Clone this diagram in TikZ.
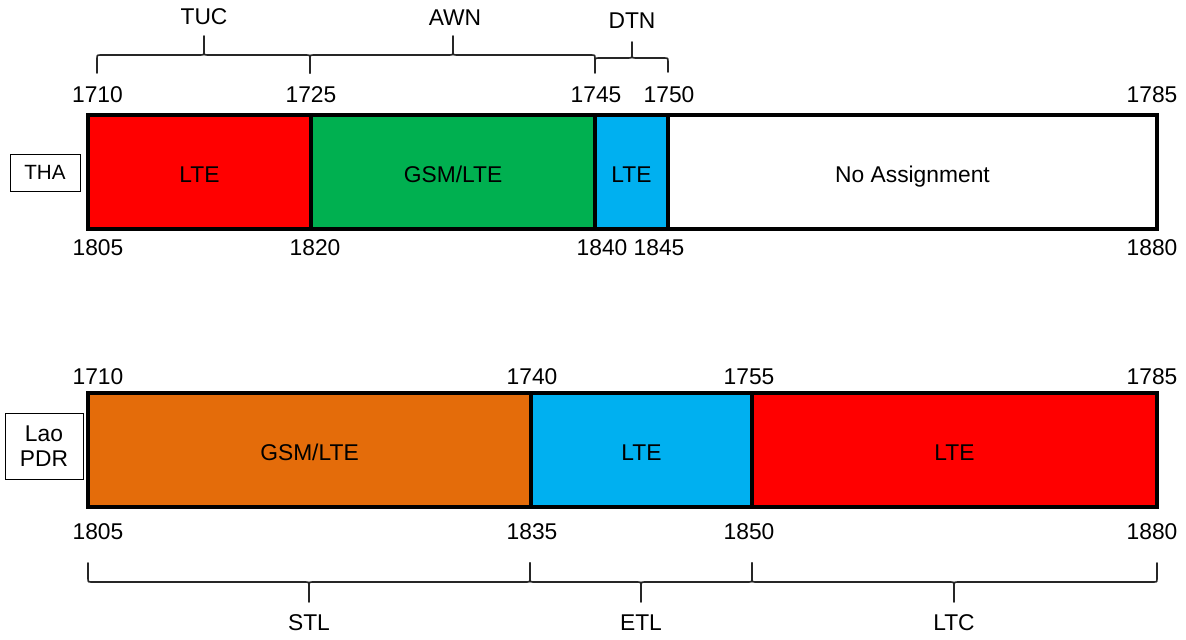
\documentclass[tikz,border=0pt]{standalone}
\usepackage{fontspec}
\setmainfont{Liberation Sans}
\definecolor{lteRed}{HTML}{FF0000}
\definecolor{gsmGreen}{HTML}{00B050}
\definecolor{lteBlue}{HTML}{00B0F0}
\definecolor{laoOrange}{HTML}{E46C0A}
% #1 x1, #2 x2, #3 x tip, #4 y ends, #5 y line, #6 y tip, #7 signed corner size (towards ends)
\newcommand\curlybrace[7]{%
  \draw[bracestyle] (#1,#4) -- (#1,{#5+#7}) .. controls (#1,#5) .. ({#1+3},#5)
    -- ({#3-3},#5) .. controls (#3,#5) .. (#3,{#5-#7}) -- (#3,#6)
    (#3,{#5-#7}) .. controls (#3,#5) .. ({#3+3},#5)
    -- ({#2-3},#5) .. controls (#2,#5) .. (#2,{#5+#7}) -- (#2,#4);}
\begin{document}
\begin{tikzpicture}[x=0.5pt,y=-0.5pt,
  seg/.style={draw=black, line width=1.6pt, inner sep=0pt, minimum height=57pt,
    text height=10.6pt, text depth=0pt, font=\fontsize{11.4}{13}\selectfont},
  num/.style={inner sep=0pt, font=\fontsize{11.4}{13}\selectfont},
  lbl/.style={inner sep=0pt, font=\fontsize{11.4}{13}\selectfont},
  country/.style={draw=black, line width=0.5pt, inner sep=0pt, align=center},
  bracestyle/.style={draw=black!85, line width=0.8pt, line cap=round, line join=round}]
\useasboundingbox[fill=white] (0,0) rectangle (1186,639);

% ---- THA bar ----
\node[seg, fill=lteRed, minimum width=111.5pt] (t1) at (199.5,172) {LTE};
\node[seg, fill=gsmGreen, minimum width=142pt] (t2) at (453,172) {GSM/LTE};
\node[seg, fill=lteBlue, minimum width=36.5pt] (t3) at (631.5,172) {LTE};
\node[seg, fill=white, minimum width=244.5pt] (t4) at (912.5,172) {No Assignment};
\node[country, minimum width=35pt, minimum height=18.5pt, font=\fontsize{10.3}{12}\selectfont] (tha) at (45,172.5) {THA};

\node[num] (n1710a) at (97.5,95) {1710};
\node[num] (n1725) at (311,95) {1725};
\node[num] (n1745) at (596,95) {1745};
\node[num] (n1750) at (669,95) {1750};
\node[num] (n1785a) at (1152,95) {1785};
\node[num] (n1805a) at (98,248) {1805};
\node[num] (n1820) at (315,248) {1820};
\node[num] (n1840) at (602,248) {1840};
\node[num] (n1845) at (659,248) {1845};
\node[num] (n1880a) at (1152,248) {1880};

\curlybrace{97}{310}{204}{73}{55}{36}{3}
\curlybrace{310}{595}{453}{73}{55}{36}{3}
\curlybrace{595}{668}{632}{72}{58}{42}{3}
\node[lbl] (tuc) at (204,17) {TUC};
\node[lbl] (awn) at (455,18) {AWN};
\node[lbl] (dtn) at (632,21) {DTN};

% ---- Lao PDR bar ----
\node[seg, fill=laoOrange, minimum width=221.5pt] (l1) at (309.5,450) {GSM/LTE};
\node[seg, fill=lteBlue, minimum width=110.5pt] (l2) at (641.5,450) {LTE};
\node[seg, fill=lteRed, minimum width=202.5pt] (l3) at (954.5,450) {LTE};
\node[country, minimum width=39pt, minimum height=33pt, font=\fontsize{11.4}{12.5}\selectfont] (lao) at (44,446) {Lao\\PDR};

\node[num] (n1710b) at (98,377) {1710};
\node[num] (n1740) at (532,377) {1740};
\node[num] (n1755) at (749,377) {1755};
\node[num] (n1785b) at (1152,377) {1785};
\node[num] (n1805b) at (98,532) {1805};
\node[num] (n1835) at (532,532) {1835};
\node[num] (n1850) at (749,532) {1850};
\node[num] (n1880b) at (1152,532) {1880};

\curlybrace{88}{530}{309}{563}{582}{602}{-3}
\curlybrace{530}{752}{641}{563}{582}{602}{-3}
\curlybrace{752}{1157}{954}{563}{582}{602}{-3}
\node[lbl] (stl) at (309,623) {STL};
\node[lbl] (etl) at (641,623) {ETL};
\node[lbl] (ltc) at (954,623) {LTC};
\end{tikzpicture}
\end{document}
